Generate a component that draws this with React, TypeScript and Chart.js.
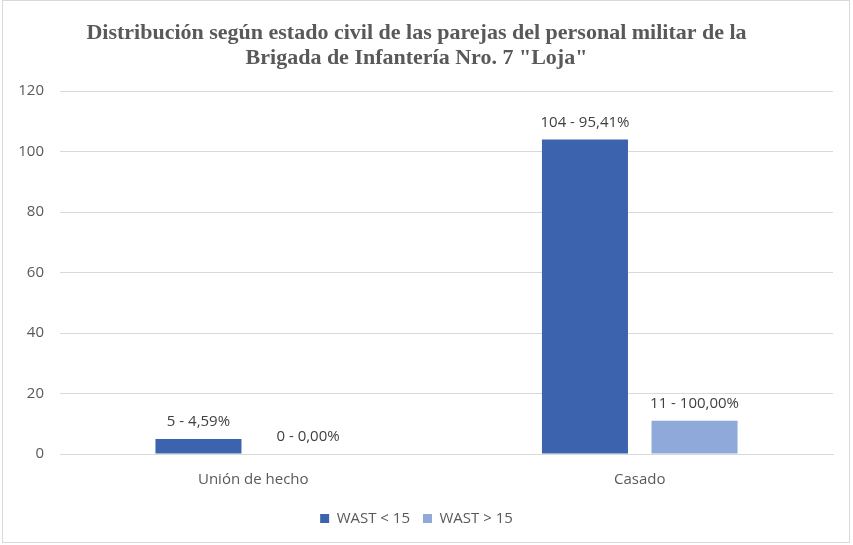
import React, { useEffect, useRef } from "react";
import { Chart, registerables } from "chart.js";

Chart.register(...registerables);

const categories = ["Unión de hecho", "Casado"];
const seriesNames = ["WAST < 15", "WAST > 15"];
const valuesA = [5, 104];
const valuesB = [0, 11];
const pctA = ["4,59%", "95,41%"];
const pctB = ["0,00%", "100,00%"];
const yTicks = [0, 20, 40, 60, 80, 100, 120];
const titleLines = [
  "Distribución según estado civil de las parejas del personal militar de la",
  'Brigada de Infantería Nro. 7 "Loja"',
];

const dataLabelPlugin = {
  id: "dataLabels",
  afterDatasetsDraw(chart: any) {
    const ctx = chart.ctx;
    const pcts = [pctA, pctB];
    ctx.save();
    ctx.font = "15px 'Open Sans'";
    ctx.fillStyle = "#404040";
    ctx.textAlign = "center";
    ctx.textBaseline = "middle";
    chart.data.datasets.forEach((ds: any, di: number) => {
      const meta = chart.getDatasetMeta(di);
      meta.data.forEach((el: any, i: number) => {
        const txt = `${ds.data[i]} - ${pcts[di][i]}`;
        ctx.fillText(txt, el.x, el.y - 17);
      });
    });
    ctx.restore();
  },
};

export default function App() {
  const ref = useRef<HTMLCanvasElement>(null);
  useEffect(() => {
    if (!ref.current) return;
    const chart = new Chart(ref.current, {
      type: "bar",
      data: {
        labels: categories,
        datasets: [
          {
            label: seriesNames[0],
            data: valuesA,
            backgroundColor: "#3C64AE",
            categoryPercentage: 0.567,
            barPercentage: 0.785,
          },
          {
            label: seriesNames[1],
            data: valuesB,
            backgroundColor: "#8FA9DB",
            categoryPercentage: 0.567,
            barPercentage: 0.785,
          },
        ],
      },
      options: {
        responsive: false,
        animation: false,
        layout: { padding: { top: 0, right: 20, bottom: 9, left: 0 } },
        plugins: {
          title: {
            display: true,
            text: titleLines,
            color: "#595959",
            font: { family: "'Liberation Serif'", size: 22, weight: "bold", lineHeight: 1.14 },
            padding: { top: 21, bottom: 20 },
          },
          legend: {
            position: "bottom",
            labels: {
              color: "#595959",
              font: { family: "'Open Sans'", size: 15 },
              boxWidth: 9,
              boxHeight: 9,
              padding: 13,
            },
          },
          tooltip: { enabled: false },
        },
        scales: {
          x: {
            grid: { display: false },
            border: { color: "#D9D9D9" },
            ticks: {
              color: "#595959",
              font: { family: "'Open Sans'", size: 15 },
              padding: 9,
            },
          },
          y: {
            min: 0,
            max: 120,
            afterBuildTicks(scale: any) {
              scale.ticks = yTicks.map((v) => ({ value: v }));
            },
            afterFit(scale: any) {
              scale.width = 60;
            },
            grid: { color: "#D9D9D9", drawTicks: false },
            border: { display: false },
            ticks: {
              color: "#595959",
              font: { family: "'Open Sans'", size: 15 },
              padding: 16,
            },
          },
        },
      },
      plugins: [dataLabelPlugin],
    } as any);
    return () => chart.destroy();
  }, []);
  return (
    <div style={{ position: "fixed", left: 0, top: 0, width: 853, height: 545, background: "#fff" }}>
      <canvas ref={ref} width={853} height={545} style={{ position: "absolute", left: 0, top: 0 }} />
      <div
        style={{
          position: "absolute",
          left: 2,
          top: 0,
          width: 848,
          height: 543,
          border: "1px solid #D9D9D9",
          boxSizing: "border-box",
          pointerEvents: "none",
        }}
      />
    </div>
  );
}
